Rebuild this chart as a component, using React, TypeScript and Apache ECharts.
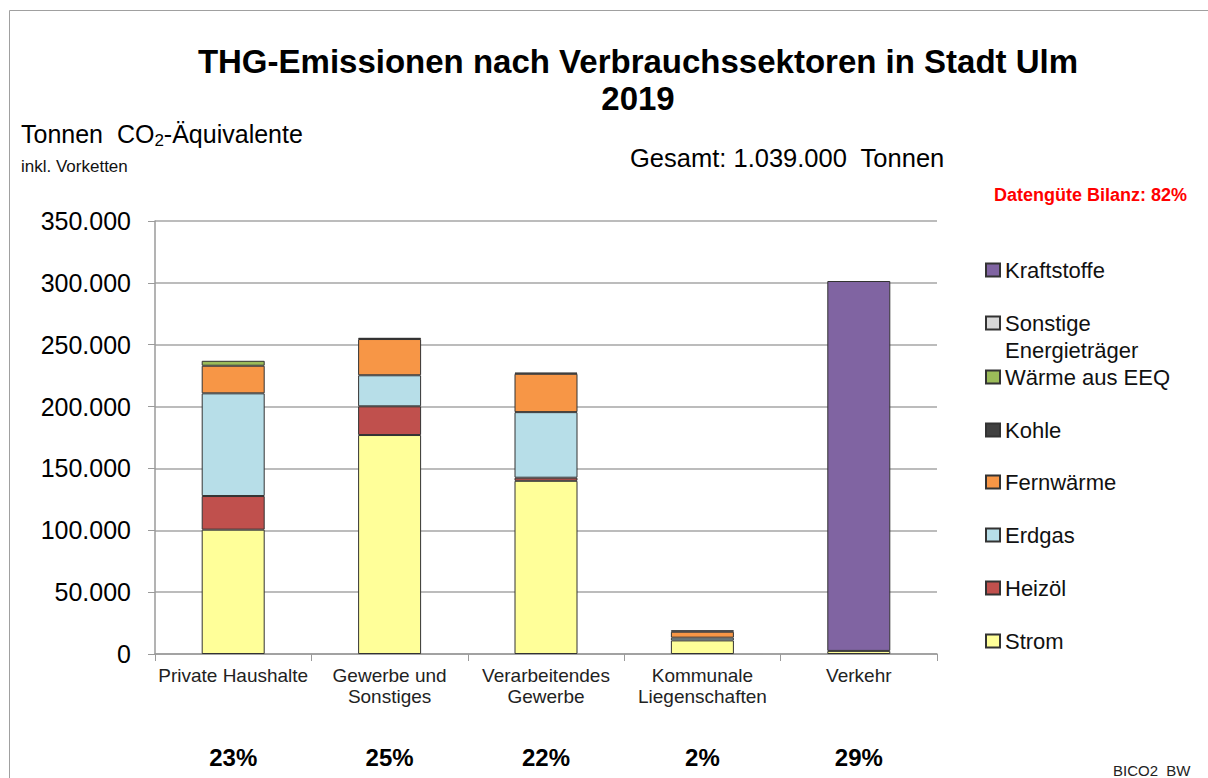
import React, { useEffect, useRef } from "react";
import * as echarts from "echarts";

const categories = [
  "Private Haushalte",
  "Gewerbe und\nSonstiges",
  "Verarbeitendes\nGewerbe",
  "Kommunale\nLiegenschaften",
  "Verkehr",
];
const shares = ["23%", "25%", "22%", "2%", "29%"];

const strom = [100500, 177000, 140000, 11000, 2500];
const heizoel = [27200, 23200, 2500, null, null];
const erdgas = [83000, 25100, 53000, 2200, null];
const fernwaerme = [22300, 29300, 31000, 4800, null];
const kohle = [null, 1000, 1000, 1200, null];
const waermeEEQ = [4000, null, null, null, null];
const sonstige = [null, null, null, null, null];
const kraftstoffe = [null, null, null, null, 299000];

const yTicks = { min: 0, max: 350000, interval: 50000 };

const seriesDefs = [
  { name: "Strom", data: strom, color: "#FFFF99", legendY: 641 },
  { name: "Heizöl", data: heizoel, color: "#C0504D", legendY: 588 },
  { name: "Erdgas", data: erdgas, color: "#B7DEE8", legendY: 535 },
  { name: "Fernwärme", data: fernwaerme, color: "#F79646", legendY: 482 },
  { name: "Kohle", data: kohle, color: "#404040", legendY: 430 },
  { name: "Wärme aus EEQ", data: waermeEEQ, color: "#9BBB59", legendY: 377 },
  { name: "Sonstige Energieträger", data: sonstige, color: "#D9D9D9", legendY: 323 },
  { name: "Kraftstoffe", data: kraftstoffe, color: "#8064A2", legendY: 270 },
];

const fmt = (v: number) => String(v).replace(/\B(?=(\d{3})+(?!\d))/g, ".");

export default function App() {
  const ref = useRef<HTMLDivElement>(null);
  useEffect(() => {
    document.body.style.margin = "0";
    if (!ref.current) return;
    const chart = echarts.init(ref.current, null, { renderer: "svg" });
    const font = "Arial, 'Liberation Sans', sans-serif";
    chart.setOption({
      animation: false,
      backgroundColor: "#ffffff",
      textStyle: { fontFamily: font },
      grid: { left: 155, right: 271, top: 221, bottom: 124 },
      legend: seriesDefs.map((s) => ({
        data: [s.name],
        left: 985,
        top: s.legendY - 12,
        padding: 0,
        icon: "rect",
        itemWidth: 14,
        itemHeight: 13,
        selectedMode: false,
        formatter: (n: string) => (n === "Sonstige Energieträger" ? "Sonstige" : n),
        textStyle: { fontSize: 22, lineHeight: 24, color: "#111", fontFamily: font },
      })),
      xAxis: [
        {
          type: "category",
          data: categories,
          axisLine: { lineStyle: { color: "#9a9a9a", width: 1.5 } },
          axisTick: { show: true, length: 7, lineStyle: { color: "#9a9a9a" } },
          axisLabel: { fontSize: 19, lineHeight: 21, color: "#222", margin: 11, interval: 0 },
        },
        {
          type: "category",
          data: shares,
          position: "bottom",
          offset: 83,
          axisLine: { show: false },
          axisTick: { show: false },
          axisLabel: { fontSize: 24, fontWeight: "bold", color: "#000", margin: 8, interval: 0 },
        },
      ],
      yAxis: {
        type: "value",
        min: yTicks.min,
        max: yTicks.max,
        interval: yTicks.interval,
        axisLine: { show: true, lineStyle: { color: "#9a9a9a", width: 1.5 } },
        axisTick: { show: true, length: 7, lineStyle: { color: "#9a9a9a" } },
        splitLine: { lineStyle: { color: "#a6a6a6", width: 1.5 } },
        axisLabel: { fontSize: 25, color: "#000", margin: 24, formatter: (v: number) => fmt(v) },
      },
      series: seriesDefs.map((s) => ({
        name: s.name,
        type: "bar",
        stack: "total",
        barWidth: 63,
        xAxisIndex: 0,
        yAxisIndex: 0,
        data: s.data,
        itemStyle: { color: s.color, borderColor: "#333", borderWidth: 1 },
      })),
      graphic: [
        {
          type: "rect",
          shape: { x: 9.5, y: 10.5, width: 1400, height: 1000 },
          style: { fill: "none", stroke: "#a0a0a0", lineWidth: 1 },
          silent: true,
        },
        {
          type: "text",
          style: {
            x: 638,
            y: 43,
            text: "THG-Emissionen nach Verbrauchssektoren in Stadt Ulm\n2019",
            textAlign: "center",
            fontSize: 33,
            fontWeight: "bold",
            lineHeight: 37,
            fill: "#000",
            fontFamily: font,
          },
        },
        {
          type: "text",
          style: {
            x: 21,
            y: 134,
            text: "Tonnen  CO{sub|2}-Äquivalente",
            textVerticalAlign: "middle",
            fontSize: 25,
            fill: "#000",
            fontFamily: font,
            rich: {
              sub: { fontSize: 17, padding: [12, 0, 0, 0], fill: "#000", fontFamily: font },
            },
          },
        },
        {
          type: "text",
          style: {
            x: 21,
            y: 166,
            text: "inkl. Vorketten",
            textVerticalAlign: "middle",
            fontSize: 17,
            fill: "#111",
            fontFamily: font,
          },
        },
        {
          type: "text",
          style: {
            x: 630,
            y: 158,
            text: "Gesamt: 1.039.000  Tonnen",
            textVerticalAlign: "middle",
            fontSize: 25.5,
            fill: "#000",
            fontFamily: font,
          },
        },
        {
          type: "text",
          style: {
            x: 1187,
            y: 195,
            text: "Datengüte Bilanz: 82%",
            textAlign: "right",
            textVerticalAlign: "middle",
            fontSize: 18,
            fontWeight: "bold",
            fill: "#FF0000",
            fontFamily: font,
          },
        },
        {
          type: "text",
          style: {
            x: 1005,
            y: 350,
            text: "Energieträger",
            textVerticalAlign: "middle",
            fontSize: 22,
            fill: "#111",
            fontFamily: font,
          },
        },
        {
          type: "text",
          style: {
            x: 1113,
            y: 770,
            text: "BICO2  BW",
            textVerticalAlign: "middle",
            fontSize: 15,
            fill: "#222",
            fontFamily: font,
          },
        },
      ],
    });
    return () => chart.dispose();
  }, []);
  return <div ref={ref} style={{ width: 1208, height: 778 }} />;
}
